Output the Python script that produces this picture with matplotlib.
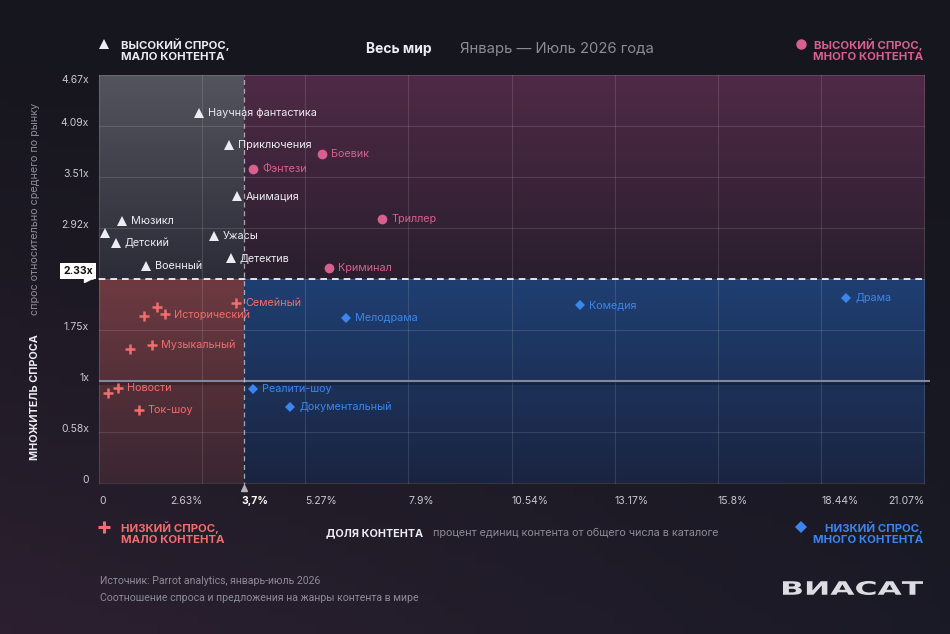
import numpy as np
import matplotlib
matplotlib.use('Agg')
from matplotlib import pyplot as plt
from matplotlib.colors import to_rgb
from matplotlib.textpath import TextPath
from matplotlib.font_manager import FontProperties
from matplotlib.patches import PathPatch
from matplotlib.transforms import Affine2D, IdentityTransform

plt.rcParams['font.family'] = ['Inter', 'DejaVu Sans']

# data: share of content (%) vs demand multiplier
tri_names = ['Научная фантастика', 'Приключения', 'Анимация', 'Мюзикл', '', 'Детский', 'Ужасы', 'Детектив', 'Военный']
tri_x = [2.55, 3.32, 3.52, 0.59, 0.15, 0.43, 2.94, 3.37, 1.20]
tri_y = [4.24, 3.87, 3.28, 3.00, 2.86, 2.75, 2.83, 2.58, 2.48]

dot_names = ['Боевик', 'Фэнтези', 'Триллер', 'Криминал']
dot_x = [5.70, 3.93, 7.23, 5.87]
dot_y = [3.77, 3.59, 3.02, 2.46]

plus_names = ['Семейный', '', '', 'Исторический', 'Музыкальный', '', 'Новости', '', 'Ток-шоу']
plus_x = [3.50, 1.48, 1.15, 1.69, 1.35, 0.79, 0.49, 0.23, 1.02]
plus_y = [2.06, 2.01, 1.91, 1.93, 1.58, 1.53, 1.09, 1.03, 0.84]

dia_names = ['Мелодрама', 'Комедия', 'Драма', 'Реалити-шоу', 'Документальный']
dia_x = [6.31, 12.28, 19.08, 3.93, 4.88]
dia_y = [1.89, 2.04, 2.12, 1.08, 0.87]

x_max = 21.07
y_max = 4.67
x_split = 3.7
y_split = 2.33
x_ticks = np.linspace(0, x_max, 9)
y_ticks = np.linspace(0, y_max, 9)
x_labels = ['0', '2.63%', '5.27%', '7.9%', '10.54%', '13.17%', '15.8%', '18.44%', '21.07%']
x_label_pos = [0, 2.634, 5.27, 7.9, 10.54, 13.17, 15.8, 18.44, 21.07]
y_labels = ['0', '0.58x', '1x', '1.75x', '', '2.92x', '3.51x', '4.09x', '4.67x']

WHITE = '#ececf2'
GRAY = '#8c8c98'
PINK = '#d8608e'
SALMON = '#f26d6d'
BLUE = '#3b86ee'

fig = plt.figure(figsize=(9.5, 6.34), dpi=100)

# background gradient for the whole figure
bg = fig.add_axes([0, 0, 1, 1])
bg.axis('off')
h, w = 64, 96
yy, xx = np.mgrid[0:1:h*1j, 0:1:w*1j]
top = np.array(to_rgb('#16161e'))
bl = np.array(to_rgb('#2c2030'))
br = np.array(to_rgb('#1a1a26'))
t = yy[..., None] ** 1.3
s = xx[..., None]
bottom = bl * (1 - s) + br * s
img = top * (1 - t) + bottom * t
bg.imshow(img, extent=[0, 1, 0, 1], aspect='auto', origin='upper')
bg.set_xlim(0, 1)
bg.set_ylim(0, 1)

ax = fig.add_axes([99/950, 1 - 483/634, 825/950, 408/634])
for sp in ax.spines.values():
    sp.set_visible(False)
ax.set_facecolor('none')


def vgrad(c_top, c_bot, extent):
    n = 100
    c1 = np.array(to_rgb(c_top))
    c2 = np.array(to_rgb(c_bot))
    f = np.linspace(0, 1, n)[:, None]
    rgb = c1 * (1 - f) + c2 * f
    ax.imshow(rgb[:, None, :], extent=extent, aspect='auto', origin='upper', zorder=0)


# quadrants
vgrad('#54545f', '#2c2c38', [0, x_split, y_split, y_max])
vgrad('#4f2a46', '#2a1e2e', [x_split, x_max, y_split, y_max])
vgrad('#6e3a40', '#3a2632', [0, x_split, 0, y_split])
vgrad('#1f3f72', '#1a2440', [x_split, x_max, 0, y_split])
ax.set_xlim(0, x_max)
ax.set_ylim(0, y_max)

# grid
for xv in x_ticks:
    ax.plot([xv, xv], [0, y_max], color='white', alpha=0.12, lw=0.8, zorder=1, clip_on=False)
for yv in y_ticks:
    ax.plot([0, x_max], [yv, yv], color='white', alpha=0.12, lw=0.8, zorder=1, clip_on=False)
ax.set_xticks([])
ax.set_yticks([])

# 1x line
one_y = y_ticks[2]
ax.plot([0, x_max * 1.007], [one_y - 0.02, one_y - 0.02], color='black', alpha=0.25, lw=3, zorder=2,
        clip_on=False, solid_capstyle='butt')
ax.plot([0, x_max * 1.007], [one_y, one_y], color='#8088a0', lw=1.5, zorder=2, clip_on=False,
        solid_capstyle='butt')

# split lines
ax.plot([-0.3, x_max], [y_split, y_split], color='white', lw=1.2, ls=(0, (4, 3)), zorder=3, clip_on=False)
ax.plot([x_split, x_split], [-0.05, y_max], color='#c8c8d0', lw=0.9, ls=(0, (4, 3)), alpha=0.8, zorder=3,
        clip_on=False)
ax.plot([-0.3], [y_split], marker='>', ms=4, color='white', clip_on=False, zorder=4)
ax.plot([x_split], [-0.06], marker='^', ms=4, color='#b0b0ba', clip_on=False, zorder=4)


# points
def series(xs, ys, names, marker, color, ms, tcolor, mew=0):
    ax.plot(xs, ys, ls='none', marker=marker, ms=ms, color=color, mew=mew, zorder=5)
    for n, xv, yv in zip(names, xs, ys):
        if n:
            ax.annotate(n, (xv, yv), xytext=(6.5, 0), textcoords='offset points',
                        va='center', ha='left', fontsize=7.8, color=tcolor, zorder=6)


series(tri_x, tri_y, tri_names, '^', WHITE, 6.5, WHITE)
series(dot_x, dot_y, dot_names, 'o', PINK, 7, PINK)
series(plus_x, plus_y, plus_names, '+', SALMON, 7, SALMON, mew=1.8)
series(dia_x, dia_y, dia_names, 'D', BLUE, 5, BLUE)

# y tick labels
for yv, lab in zip(y_ticks, y_labels):
    if lab:
        va = 'top' if yv == y_max else 'center'
        ax.text(-0.012, yv + (0 if va == 'top' else 0.04), lab, transform=ax.get_yaxis_transform(),
                ha='right', va=va, fontsize=7.5, color='#c8c8d2')
ax.text(-0.007, y_split + 0.1, '2.33x', transform=ax.get_yaxis_transform(), ha='right', va='center',
        fontsize=7.5, fontweight='bold', color='#111111',
        bbox=dict(boxstyle='square,pad=0.3', fc='white', ec='none'))

# x tick labels
for xv, lab in zip(x_label_pos, x_labels):
    ha = 'right' if lab in ('2.63%', '21.07%') else 'left'
    ax.text(xv, -0.044, lab, transform=ax.get_xaxis_transform(), ha=ha, va='center',
            fontsize=7.5, color='#c8c8d2')
ax.text(x_split - 0.05, -0.044, '3,7%', transform=ax.get_xaxis_transform(), ha='left', va='center',
        fontsize=7.5, fontweight='bold', color='white')

# axis titles
fig.text(326/950, 1 - 533/634, 'ДОЛЯ КОНТЕНТА', fontsize=7.8, fontweight='bold', color=WHITE, va='center')
fig.text(433/950, 1 - 533/634, 'процент единиц контента от общего числа в каталоге', fontsize=7.8,
         color=GRAY, va='center')
fig.text(35/950, 1 - 397/634, 'МНОЖИТЕЛЬ СПРОСА', fontsize=7.8, fontweight='bold', color=WHITE,
         rotation=90, ha='center', va='center')
fig.text(35/950, 1 - 209/634, 'спрос относительно среднего по рынку', fontsize=7.8, color=GRAY,
         rotation=90, ha='center', va='center')

# header
fig.text(399/950, 1 - 49/634, 'Весь мир', fontsize=10, fontweight='bold', color=WHITE, ha='center', va='center')
fig.text(460/950, 1 - 49/634, 'Январь — Июль 2026 года', fontsize=10.7, color=GRAY, ha='left', va='center')


# quadrant legends
def corner(x_mark, x_text, y_top, marker, color, text, ms, ha='left', mew=0):
    bg.plot([x_mark/950], [1 - (y_top + 1)/634], marker=marker, ms=ms, color=color, mew=mew)
    fig.text(x_text/950, 1 - (y_top + 7)/634, text, fontsize=8.2, fontweight='bold', color=color,
             ha=ha, va='center', linespacing=1.15)


corner(104, 121, 43, '^', WHITE, 'ВЫСОКИЙ СПРОС,\nМАЛО КОНТЕНТА', 7)
corner(801, 923, 43, 'o', PINK, 'ВЫСОКИЙ СПРОС,\nМНОГО КОНТЕНТА', 7.5, ha='right')
corner(104, 121, 526, '+', SALMON, 'НИЗКИЙ СПРОС,\nМАЛО КОНТЕНТА', 9, mew=2.2)
corner(801, 923, 526, 'D', BLUE, 'НИЗКИЙ СПРОС,\nМНОГО КОНТЕНТА', 6, ha='right')

# footer
fig.text(100/950, 1 - 581/634, 'Источник: Parrot analytics, январь-июль 2026', fontsize=7.6, color=GRAY,
         va='center', family=['Roboto', 'DejaVu Sans'])
fig.text(100/950, 1 - 598/634, 'Соотношение спроса и предложения на жанры контента в мире', fontsize=7.6,
         color=GRAY, va='center', family=['Roboto', 'DejaVu Sans'])

# logo, stretched to the wide wordmark box
logo = TextPath((0, 0), 'ВИАСАТ', size=20, prop=FontProperties(family='DejaVu Sans', weight='bold'))
ext = logo.get_extents()
sx = 140 / ext.width
sy = 14 / ext.height
H = 634
tr = Affine2D().translate(-ext.x0, -ext.y0).scale(sx, sy).translate(783, H - 595)
fig.patches.append(PathPatch(logo, transform=tr + IdentityTransform(), fc='#dcdce2', ec='none',
                             figure=fig))

fig.savefig('out.png', dpi=100)
